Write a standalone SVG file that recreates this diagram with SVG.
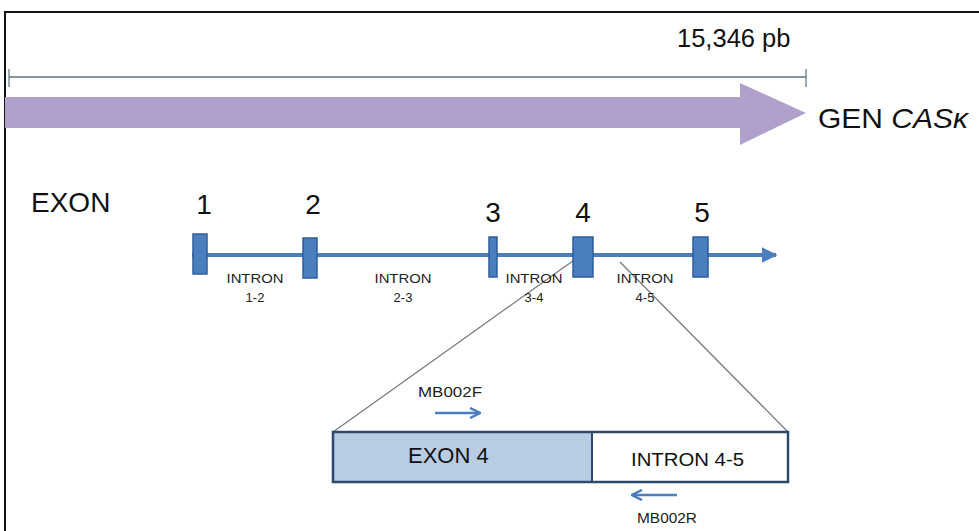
<svg xmlns="http://www.w3.org/2000/svg" width="979" height="531" viewBox="0 0 979 531">
  <style>
    text { font-family: "Liberation Sans", Arial, sans-serif; fill: #111; }
    .exon { fill: #4a7ebf; stroke: #2f5e99; stroke-width: 1.5; }
    .intron { font-size: 13px; text-anchor: middle; fill: #222; }
    .num { font-size: 28px; text-anchor: middle; }
    .zoom { stroke: #7a7a7a; stroke-width: 1.3; fill: none; }
    .primer { stroke: #4a7ebf; stroke-width: 2.5; fill: none; }
    .label { font-size: 14px; fill: #222; }
  </style>
  <defs>
    <marker id="head" viewBox="0 0 10 10" refX="9" refY="5" markerWidth="4" markerHeight="4" orient="auto">
      <path d="M0,0 L10,5 L0,10 z" fill="#4a7ebf"/>
    </marker>
    <marker id="primerHead" viewBox="0 0 10 10" refX="9" refY="5" markerWidth="5" markerHeight="5" orient="auto">
      <path d="M1,1 L9,5 L1,9" fill="none" stroke="#4a7ebf" stroke-width="2"/>
    </marker>
  </defs>

  <rect width="979" height="531" fill="#ffffff"/>
  <!-- frame -->
  <rect x="5" y="12" width="1000" height="560" fill="none" stroke="#111" stroke-width="2"/>

  <!-- length scale -->
  <g id="scale">
    <line x1="9" y1="77" x2="806" y2="77" stroke="#5d7380" stroke-width="1.5"/>
    <line x1="9" y1="69" x2="9" y2="87" stroke="#5d7380" stroke-width="1.2"/>
    <line x1="806" y1="69" x2="806" y2="87" stroke="#5d7380" stroke-width="1.2"/>
    <text x="677" y="47" font-size="25.5">15,346 pb</text>
  </g>

  <!-- gene arrow -->
  <g id="gene">
    <path d="M5,97 L740,97 L740,83 L806,113 L740,145 L740,128 L5,128 z" fill="#b1a0cb"/>
    <text x="818" y="128" font-size="28" textLength="150" lengthAdjust="spacingAndGlyphs">GEN <tspan font-style="italic">CASκ</tspan></text>
  </g>

  <text x="31" y="212" font-size="28">EXON</text>

  <!-- connectors -->
  <g id="connectors">
    <line x1="192" y1="255" x2="776" y2="255" stroke="#4a7ebf" stroke-width="4" marker-end="url(#head)"/>
    <line class="zoom" x1="577" y1="258" x2="333" y2="432"/>
    <line class="zoom" x1="620" y1="262" x2="788" y2="432"/>
    <line class="primer" x1="435" y1="413" x2="480" y2="413" marker-end="url(#primerHead)"/>
    <line class="primer" x1="677" y1="495" x2="632" y2="495" marker-end="url(#primerHead)"/>
  </g>

  <!-- exons -->
  <g id="exon1">
    <rect class="exon" x="193" y="234" width="14" height="40"/>
    <text class="num" x="204" y="214">1</text>
  </g>
  <g id="exon2">
    <rect class="exon" x="303" y="238" width="14" height="40"/>
    <text class="num" x="313" y="214">2</text>
  </g>
  <g id="exon3">
    <rect class="exon" x="489" y="237" width="8" height="40"/>
    <text class="num" x="493" y="222">3</text>
  </g>
  <g id="exon4">
    <rect class="exon" x="573" y="237" width="20" height="40"/>
    <text class="num" x="583" y="222">4</text>
  </g>
  <g id="exon5">
    <rect class="exon" x="693" y="237" width="15" height="40"/>
    <text class="num" x="702" y="222">5</text>
  </g>

  <!-- introns -->
  <g id="intron12"><text class="intron" x="255" y="283" textLength="57" lengthAdjust="spacingAndGlyphs">INTRON</text><text class="intron" x="255" y="302">1-2</text></g>
  <g id="intron23"><text class="intron" x="403" y="283" textLength="57" lengthAdjust="spacingAndGlyphs">INTRON</text><text class="intron" x="403" y="302">2-3</text></g>
  <g id="intron34"><text class="intron" x="534" y="283" textLength="57" lengthAdjust="spacingAndGlyphs">INTRON</text><text class="intron" x="534" y="302">3-4</text></g>
  <g id="intron45"><text class="intron" x="645" y="283" textLength="57" lengthAdjust="spacingAndGlyphs">INTRON</text><text class="intron" x="645" y="302">4-5</text></g>

  <!-- enlarged exon 4 / intron 4-5 -->
  <g id="detail">
    <rect x="333" y="432" width="259" height="50" fill="#b8cce4"/>
    <rect x="592" y="432" width="196" height="50" fill="#ffffff"/>
    <rect x="333" y="432" width="455" height="50" fill="none" stroke="#2e4a6b" stroke-width="2.5"/>
    <line x1="592" y1="432" x2="592" y2="482" stroke="#2e4a6b" stroke-width="2"/>
    <text x="408" y="463" font-size="22">EXON 4</text>
    <text x="631" y="466" font-size="19" textLength="113" lengthAdjust="spacingAndGlyphs">INTRON 4-5</text>
  </g>

  <g id="primerF"><text class="label" x="418" y="397" textLength="64" lengthAdjust="spacingAndGlyphs">MB002F</text></g>
  <g id="primerR"><text class="label" x="637" y="523" textLength="60" lengthAdjust="spacingAndGlyphs">MB002R</text></g>
</svg>
